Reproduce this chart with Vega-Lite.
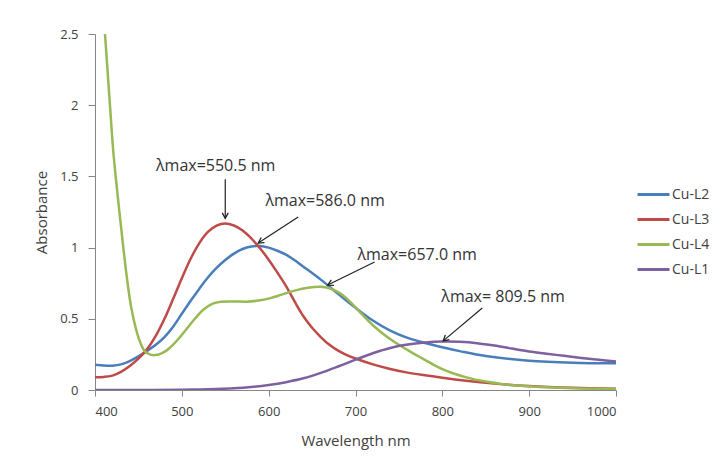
{
  "$schema": "https://vega.github.io/schema/vega-lite/v6.json",
  "width": 521,
  "height": 356,
  "autosize": {"type": "none"},
  "padding": {"left": 95, "top": 34, "right": 104, "bottom": 67},
  "background": "white",
  "config": {
    "view": {"stroke": null},
    "font": "Open Sans"
  },
  "datasets": {
    "spectra": [
      {"wl": 400, "abs": 0.178, "series": "Cu-L2"},
      {"wl": 410, "abs": 0.172, "series": "Cu-L2"},
      {"wl": 420, "abs": 0.171, "series": "Cu-L2"},
      {"wl": 430, "abs": 0.18, "series": "Cu-L2"},
      {"wl": 440, "abs": 0.203, "series": "Cu-L2"},
      {"wl": 450, "abs": 0.236, "series": "Cu-L2"},
      {"wl": 460, "abs": 0.275, "series": "Cu-L2"},
      {"wl": 470, "abs": 0.318, "series": "Cu-L2"},
      {"wl": 480, "abs": 0.372, "series": "Cu-L2"},
      {"wl": 490, "abs": 0.445, "series": "Cu-L2"},
      {"wl": 500, "abs": 0.535, "series": "Cu-L2"},
      {"wl": 510, "abs": 0.625, "series": "Cu-L2"},
      {"wl": 520, "abs": 0.71, "series": "Cu-L2"},
      {"wl": 530, "abs": 0.79, "series": "Cu-L2"},
      {"wl": 540, "abs": 0.857, "series": "Cu-L2"},
      {"wl": 550, "abs": 0.913, "series": "Cu-L2"},
      {"wl": 560, "abs": 0.958, "series": "Cu-L2"},
      {"wl": 570, "abs": 0.99, "series": "Cu-L2"},
      {"wl": 580, "abs": 1.007, "series": "Cu-L2"},
      {"wl": 590, "abs": 1.012, "series": "Cu-L2"},
      {"wl": 600, "abs": 1.0, "series": "Cu-L2"},
      {"wl": 610, "abs": 0.978, "series": "Cu-L2"},
      {"wl": 620, "abs": 0.95, "series": "Cu-L2"},
      {"wl": 630, "abs": 0.911, "series": "Cu-L2"},
      {"wl": 640, "abs": 0.866, "series": "Cu-L2"},
      {"wl": 660, "abs": 0.775, "series": "Cu-L2"},
      {"wl": 680, "abs": 0.675, "series": "Cu-L2"},
      {"wl": 700, "abs": 0.577, "series": "Cu-L2"},
      {"wl": 720, "abs": 0.488, "series": "Cu-L2"},
      {"wl": 740, "abs": 0.417, "series": "Cu-L2"},
      {"wl": 760, "abs": 0.366, "series": "Cu-L2"},
      {"wl": 780, "abs": 0.33, "series": "Cu-L2"},
      {"wl": 800, "abs": 0.3, "series": "Cu-L2"},
      {"wl": 820, "abs": 0.273, "series": "Cu-L2"},
      {"wl": 850, "abs": 0.238, "series": "Cu-L2"},
      {"wl": 900, "abs": 0.206, "series": "Cu-L2"},
      {"wl": 950, "abs": 0.192, "series": "Cu-L2"},
      {"wl": 1000, "abs": 0.187, "series": "Cu-L2"},

      {"wl": 400, "abs": 0.09, "series": "Cu-L3"},
      {"wl": 410, "abs": 0.092, "series": "Cu-L3"},
      {"wl": 420, "abs": 0.101, "series": "Cu-L3"},
      {"wl": 430, "abs": 0.127, "series": "Cu-L3"},
      {"wl": 440, "abs": 0.168, "series": "Cu-L3"},
      {"wl": 450, "abs": 0.22, "series": "Cu-L3"},
      {"wl": 460, "abs": 0.287, "series": "Cu-L3"},
      {"wl": 470, "abs": 0.38, "series": "Cu-L3"},
      {"wl": 480, "abs": 0.5, "series": "Cu-L3"},
      {"wl": 490, "abs": 0.64, "series": "Cu-L3"},
      {"wl": 500, "abs": 0.785, "series": "Cu-L3"},
      {"wl": 510, "abs": 0.92, "series": "Cu-L3"},
      {"wl": 520, "abs": 1.03, "series": "Cu-L3"},
      {"wl": 530, "abs": 1.11, "series": "Cu-L3"},
      {"wl": 540, "abs": 1.155, "series": "Cu-L3"},
      {"wl": 550, "abs": 1.17, "series": "Cu-L3"},
      {"wl": 560, "abs": 1.155, "series": "Cu-L3"},
      {"wl": 570, "abs": 1.12, "series": "Cu-L3"},
      {"wl": 580, "abs": 1.065, "series": "Cu-L3"},
      {"wl": 590, "abs": 0.995, "series": "Cu-L3"},
      {"wl": 600, "abs": 0.915, "series": "Cu-L3"},
      {"wl": 610, "abs": 0.825, "series": "Cu-L3"},
      {"wl": 620, "abs": 0.73, "series": "Cu-L3"},
      {"wl": 630, "abs": 0.62, "series": "Cu-L3"},
      {"wl": 640, "abs": 0.518, "series": "Cu-L3"},
      {"wl": 650, "abs": 0.437, "series": "Cu-L3"},
      {"wl": 660, "abs": 0.372, "series": "Cu-L3"},
      {"wl": 670, "abs": 0.317, "series": "Cu-L3"},
      {"wl": 680, "abs": 0.276, "series": "Cu-L3"},
      {"wl": 690, "abs": 0.245, "series": "Cu-L3"},
      {"wl": 700, "abs": 0.221, "series": "Cu-L3"},
      {"wl": 720, "abs": 0.18, "series": "Cu-L3"},
      {"wl": 740, "abs": 0.148, "series": "Cu-L3"},
      {"wl": 760, "abs": 0.122, "series": "Cu-L3"},
      {"wl": 780, "abs": 0.103, "series": "Cu-L3"},
      {"wl": 800, "abs": 0.086, "series": "Cu-L3"},
      {"wl": 850, "abs": 0.05, "series": "Cu-L3"},
      {"wl": 900, "abs": 0.028, "series": "Cu-L3"},
      {"wl": 950, "abs": 0.015, "series": "Cu-L3"},
      {"wl": 1000, "abs": 0.008, "series": "Cu-L3"},

      {"wl": 400, "abs": 3.9, "series": "Cu-L4"},
      {"wl": 406, "abs": 3.1, "series": "Cu-L4"},
      {"wl": 411.5, "abs": 2.5, "series": "Cu-L4"},
      {"wl": 417, "abs": 2.02, "series": "Cu-L4"},
      {"wl": 421, "abs": 1.68, "series": "Cu-L4"},
      {"wl": 425, "abs": 1.43, "series": "Cu-L4"},
      {"wl": 431, "abs": 1.09, "series": "Cu-L4"},
      {"wl": 436.5, "abs": 0.8, "series": "Cu-L4"},
      {"wl": 442, "abs": 0.57, "series": "Cu-L4"},
      {"wl": 450, "abs": 0.37, "series": "Cu-L4"},
      {"wl": 457, "abs": 0.275, "series": "Cu-L4"},
      {"wl": 463, "abs": 0.25, "series": "Cu-L4"},
      {"wl": 469, "abs": 0.245, "series": "Cu-L4"},
      {"wl": 476, "abs": 0.256, "series": "Cu-L4"},
      {"wl": 483, "abs": 0.28, "series": "Cu-L4"},
      {"wl": 490, "abs": 0.318, "series": "Cu-L4"},
      {"wl": 497, "abs": 0.365, "series": "Cu-L4"},
      {"wl": 505, "abs": 0.425, "series": "Cu-L4"},
      {"wl": 515, "abs": 0.5, "series": "Cu-L4"},
      {"wl": 525, "abs": 0.565, "series": "Cu-L4"},
      {"wl": 535, "abs": 0.605, "series": "Cu-L4"},
      {"wl": 545, "abs": 0.62, "series": "Cu-L4"},
      {"wl": 560, "abs": 0.622, "series": "Cu-L4"},
      {"wl": 575, "abs": 0.62, "series": "Cu-L4"},
      {"wl": 590, "abs": 0.63, "series": "Cu-L4"},
      {"wl": 602, "abs": 0.645, "series": "Cu-L4"},
      {"wl": 615, "abs": 0.67, "series": "Cu-L4"},
      {"wl": 630, "abs": 0.698, "series": "Cu-L4"},
      {"wl": 645, "abs": 0.718, "series": "Cu-L4"},
      {"wl": 660, "abs": 0.725, "series": "Cu-L4"},
      {"wl": 670, "abs": 0.715, "series": "Cu-L4"},
      {"wl": 680, "abs": 0.687, "series": "Cu-L4"},
      {"wl": 690, "abs": 0.642, "series": "Cu-L4"},
      {"wl": 700, "abs": 0.58, "series": "Cu-L4"},
      {"wl": 710, "abs": 0.515, "series": "Cu-L4"},
      {"wl": 720, "abs": 0.455, "series": "Cu-L4"},
      {"wl": 735, "abs": 0.38, "series": "Cu-L4"},
      {"wl": 750, "abs": 0.318, "series": "Cu-L4"},
      {"wl": 765, "abs": 0.263, "series": "Cu-L4"},
      {"wl": 775, "abs": 0.228, "series": "Cu-L4"},
      {"wl": 790, "abs": 0.177, "series": "Cu-L4"},
      {"wl": 800, "abs": 0.147, "series": "Cu-L4"},
      {"wl": 813, "abs": 0.116, "series": "Cu-L4"},
      {"wl": 830, "abs": 0.085, "series": "Cu-L4"},
      {"wl": 850, "abs": 0.059, "series": "Cu-L4"},
      {"wl": 870, "abs": 0.041, "series": "Cu-L4"},
      {"wl": 890, "abs": 0.03, "series": "Cu-L4"},
      {"wl": 920, "abs": 0.019, "series": "Cu-L4"},
      {"wl": 950, "abs": 0.012, "series": "Cu-L4"},
      {"wl": 1000, "abs": 0.007, "series": "Cu-L4"},

      {"wl": 400, "abs": 0.0, "series": "Cu-L1"},
      {"wl": 450, "abs": 0.0, "series": "Cu-L1"},
      {"wl": 500, "abs": 0.002, "series": "Cu-L1"},
      {"wl": 520, "abs": 0.004, "series": "Cu-L1"},
      {"wl": 540, "abs": 0.007, "series": "Cu-L1"},
      {"wl": 560, "abs": 0.012, "series": "Cu-L1"},
      {"wl": 580, "abs": 0.021, "series": "Cu-L1"},
      {"wl": 600, "abs": 0.035, "series": "Cu-L1"},
      {"wl": 620, "abs": 0.055, "series": "Cu-L1"},
      {"wl": 640, "abs": 0.082, "series": "Cu-L1"},
      {"wl": 660, "abs": 0.12, "series": "Cu-L1"},
      {"wl": 680, "abs": 0.165, "series": "Cu-L1"},
      {"wl": 700, "abs": 0.213, "series": "Cu-L1"},
      {"wl": 720, "abs": 0.258, "series": "Cu-L1"},
      {"wl": 740, "abs": 0.295, "series": "Cu-L1"},
      {"wl": 760, "abs": 0.319, "series": "Cu-L1"},
      {"wl": 780, "abs": 0.333, "series": "Cu-L1"},
      {"wl": 800, "abs": 0.34, "series": "Cu-L1"},
      {"wl": 820, "abs": 0.338, "series": "Cu-L1"},
      {"wl": 840, "abs": 0.329, "series": "Cu-L1"},
      {"wl": 860, "abs": 0.312, "series": "Cu-L1"},
      {"wl": 880, "abs": 0.291, "series": "Cu-L1"},
      {"wl": 900, "abs": 0.271, "series": "Cu-L1"},
      {"wl": 920, "abs": 0.255, "series": "Cu-L1"},
      {"wl": 940, "abs": 0.24, "series": "Cu-L1"},
      {"wl": 960, "abs": 0.225, "series": "Cu-L1"},
      {"wl": 980, "abs": 0.212, "series": "Cu-L1"},
      {"wl": 1000, "abs": 0.2, "series": "Cu-L1"}
    ],
    "notes": [
      {"label": "λmax=550.5 nm", "tx": 539, "ty": 1.57, "x1": 550, "y1": 1.48, "x2": 550, "y2": 1.205, "ang": 0},
      {"label": "λmax=586.0 nm", "tx": 665, "ty": 1.33, "x1": 634, "y1": 1.215, "x2": 588, "y2": 1.032, "ang": 57},
      {"label": "λmax=657.0 nm", "tx": 771, "ty": 0.948, "x1": 722, "y1": 0.899, "x2": 668, "y2": 0.737, "ang": 64},
      {"label": "λmax= 809.5 nm", "tx": 870, "ty": 0.653, "x1": 846, "y1": 0.576, "x2": 801, "y2": 0.345, "ang": 49}
    ]
  },
  "layer": [
    {
      "data": {"name": "spectra"},
      "mark": {"type": "line", "interpolate": "catmull-rom", "strokeWidth": 2.5, "clip": true},
      "encoding": {
        "x": {
          "field": "wl", "type": "quantitative",
          "scale": {"domain": [400, 1000], "nice": false, "zero": false},
          "axis": {
            "title": "Wavelength nm", "values": [400, 500, 600, 700, 800, 900, 1000], "format": "d",
            "grid": false, "domainColor": "#868686", "tickColor": "#868686", "tickSize": 6,
            "labelFont": "Open Sans", "labelFontSize": 13, "labelColor": "#404040", "labelPadding": 9,
            "titleFont": "Open Sans", "titleFontSize": 15, "titleFontWeight": "normal", "titleColor": "#404040", "titlePadding": 15
          }
        },
        "y": {
          "field": "abs", "type": "quantitative",
          "scale": {"domain": [0, 2.5], "nice": false},
          "axis": {
            "title": "Absorbance", "values": [0, 0.5, 1, 1.5, 2, 2.5], "labelExpr": "'' + datum.value",
            "grid": false, "domainColor": "#868686", "tickColor": "#868686", "tickSize": 7,
            "labelFont": "Open Sans", "labelFontSize": 13, "labelColor": "#404040", "labelPadding": 10,
            "titleFont": "Open Sans", "titleFontSize": 15, "titleFontWeight": "normal", "titleColor": "#404040", "titlePadding": 10
          }
        },
        "color": {
          "field": "series", "type": "nominal",
          "scale": {"domain": ["Cu-L2", "Cu-L3", "Cu-L4", "Cu-L1"], "range": ["#4a7ebb", "#be4b48", "#98b954", "#7d60a0"]},
          "legend": {
            "title": null, "orient": "none", "legendX": 541, "legendY": 143, "padding": 0,
            "symbolType": "stroke", "symbolStrokeWidth": 3, "symbolSize": 1024,
            "rowPadding": -1, "labelFont": "Open Sans", "labelFontSize": 14, "labelColor": "#404040", "labelOffset": 1
          }
        }
      }
    },
    {
      "data": {"name": "notes"},
      "mark": {"type": "rule", "color": "#222222", "strokeWidth": 1.2},
      "encoding": {
        "x": {"field": "x1", "type": "quantitative"},
        "y": {"field": "y1", "type": "quantitative"},
        "x2": {"field": "x2"},
        "y2": {"field": "y2"}
      }
    },
    {
      "data": {"name": "notes"},
      "mark": {"type": "point", "shape": "M -0.55 -1 L 0 0 L 0.55 -1", "filled": false, "color": "#222222", "strokeWidth": 1.3, "size": 120, "opacity": 1},
      "encoding": {
        "x": {"field": "x2", "type": "quantitative"},
        "y": {"field": "y2", "type": "quantitative"},
        "angle": {"field": "ang", "type": "quantitative", "scale": null}
      }
    },
    {
      "data": {"name": "notes"},
      "mark": {"type": "text", "font": "Open Sans", "fontSize": 16, "color": "#333333", "align": "center", "baseline": "middle"},
      "encoding": {
        "x": {"field": "tx", "type": "quantitative"},
        "y": {"field": "ty", "type": "quantitative"},
        "text": {"field": "label"}
      }
    }
  ]
}
